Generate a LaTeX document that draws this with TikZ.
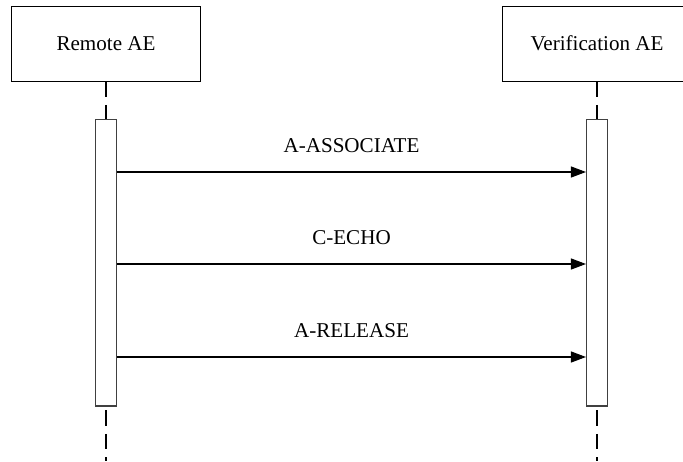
\documentclass[tikz,border=0pt]{standalone}
\usepackage{fontspec}
\setmainfont{Liberation Serif}
\usetikzlibrary{arrows.meta}

\begin{document}
\begin{tikzpicture}[
    x=0.02cm, y=0.02cm,
    entity/.style={rectangle, draw, line width=0.5pt, minimum width=3.78cm, minimum height=1.5cm, font=\fontsize{12}{14}\selectfont},
    bar/.style={rectangle, draw=black!75, line width=0.6pt, fill=white, minimum width=0.42cm, minimum height=5.74cm, inner sep=0pt},
    lifeline/.style={line width=1.1pt, dash pattern=on 0.31cm off 0.16cm},
    msg/.style={-{Triangle[length=0.3cm,width=0.22cm]}, line width=0.6pt},
    lbl/.style={font=\fontsize{12}{14}\selectfont},
]
    \useasboundingbox (0,0) rectangle (683,461);
    \clip (0,0) rectangle (683,461);

    % Entities
    \node[entity] (remote) at (106,417.5) {Remote AE};
    \node[entity] (verif) at (597,417.5) {Verification AE};

    % Lifelines
    \coordinate (remoteend) at (106,0);
    \coordinate (verifend) at (597,0);
    \draw[lifeline] (remote.south) -- (remoteend);
    \draw[lifeline] (verif.south) -- (verifend);

    % Activation bars
    \node[bar] (remotebar) at (106,198.5) {};
    \node[bar] (verifbar) at (597,198.5) {};

    % Messages
    \coordinate (s1) at (remotebar.east |- 0,289);
    \coordinate (s2) at (remotebar.east |- 0,197);
    \coordinate (s3) at (remotebar.east |- 0,104);
    \draw[msg] (s1) -- (s1 -| verifbar.west) node[lbl, midway, above=0.25cm] (assoc) {A-ASSOCIATE};
    \draw[msg] (s2) -- (s2 -| verifbar.west) node[lbl, midway, above=0.25cm] (echo) {C-ECHO};
    \draw[msg] (s3) -- (s3 -| verifbar.west) node[lbl, midway, above=0.25cm] (release) {A-RELEASE};
\end{tikzpicture}
\end{document}
